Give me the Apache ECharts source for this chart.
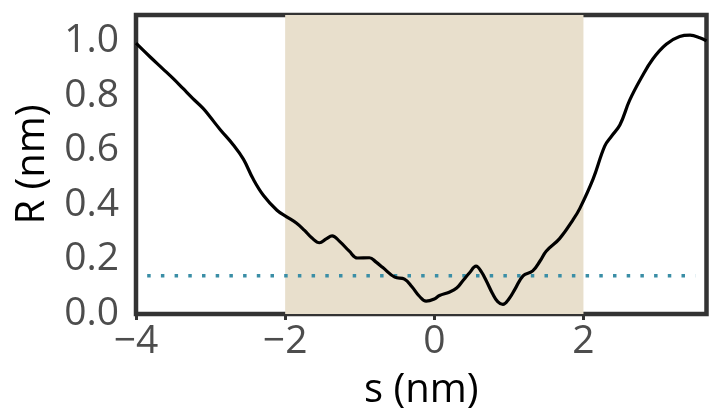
<!DOCTYPE html>
<html>
<head>
<meta charset="utf-8">
<script src="https://cdn.jsdelivr.net/npm/echarts@6/dist/echarts.min.js"></script>
<style>
html,body{margin:0;padding:0;background:#fff;}
#chart{width:709px;height:416px;}
</style>
</head>
<body>
<div id="chart"></div>
<script>
var sValues = [-4.0,-3.82,-3.64,-3.5,-3.37,-3.24,-3.1,-3.01,-2.87,-2.7,-2.56,-2.43,-2.29,-2.11,-1.98,-1.85,-1.74,-1.64,-1.54,-1.45,-1.37,-1.27,-1.14,-1.03,-0.87,-0.78,-0.69,-0.53,-0.40,-0.30,-0.20,-0.11,0.0,0.07,0.20,0.30,0.38,0.47,0.56,0.63,0.70,0.78,0.85,0.92,1.0,1.08,1.19,1.32,1.42,1.50,1.68,1.86,1.95,2.13,2.285,2.376,2.49,2.62,2.78,2.93,3.11,3.29,3.43,3.56,3.65];
var rValues = [0.992,0.944,0.898,0.862,0.826,0.790,0.753,0.723,0.675,0.621,0.567,0.495,0.434,0.380,0.356,0.333,0.306,0.278,0.261,0.275,0.286,0.266,0.230,0.205,0.206,0.190,0.170,0.135,0.128,0.100,0.065,0.047,0.055,0.068,0.080,0.095,0.121,0.150,0.175,0.155,0.120,0.075,0.045,0.035,0.055,0.090,0.140,0.158,0.195,0.230,0.276,0.345,0.386,0.495,0.615,0.651,0.693,0.783,0.867,0.934,0.988,1.016,1.021,1.012,1.000];
var xTicks = [-4,-2,0,2];
var yTicks = [0,0.2,0.4,0.6,0.8,1.0];
var shadeRange = [-2, 2];
var thresholdR = 0.14;
var thresholdS = [-3.85, 3.5];
var xRange = [-4, 3.65];
var yRange = [0, 1.095];

var curve = sValues.map(function(s,i){return [s, rValues[i]];});
var thresh = thresholdS.map(function(s){return [s, thresholdR];});

var chart = echarts.init(document.getElementById('chart'), null, {renderer:'canvas'});
var fontFam = '"Open Sans", "Noto Sans", sans-serif';
chart.setOption({
  animation:false,
  backgroundColor:'#ffffff',
  grid:{left:136, right:2.5, top:15, bottom:99, show:true, borderColor:'#333333', borderWidth:4.5, backgroundColor:'transparent'},
  xAxis:{
    type:'value', min:xRange[0], max:xRange[1], interval:2,
    name:'s (nm)', nameLocation:'middle', nameGap:57,
    nameTextStyle:{color:'#000', fontSize:40, fontFamily:fontFam},
    axisLine:{show:false},
    axisTick:{show:true, length:6, customValues:xTicks, lineStyle:{color:'#333333', width:3}},
    axisLabel:{customValues:xTicks, color:'#4d4d4d', fontSize:39, fontFamily:fontFam, margin:8,
      formatter:function(v){return String(v).replace('-', '\u2212');}},
    splitLine:{show:false}
  },
  yAxis:{
    type:'value', min:yRange[0], max:yRange[1], interval:0.2,
    name:'R (nm)', nameLocation:'middle', nameGap:83, nameRotate:90,
    nameTextStyle:{color:'#000', fontSize:40, fontFamily:fontFam},
    axisLine:{show:false},
    axisTick:{show:true, length:6, customValues:yTicks, lineStyle:{color:'#333333', width:3}},
    axisLabel:{customValues:yTicks, color:'#4d4d4d', fontSize:39, fontFamily:fontFam, margin:17,
      formatter:function(v){return v.toFixed(1);}},
    splitLine:{show:false}
  },
  series:[
    {
      type:'line', data:[], silent:true, z:1,
      markArea:{silent:true, itemStyle:{color:'#e8dfcc', opacity:1},
        data:[[{xAxis:shadeRange[0]},{xAxis:shadeRange[1]}]]}
    },
    {
      type:'line', data:thresh, showSymbol:false, silent:true, z:2,
      lineStyle:{color:'#3a8ea6', width:3.5, type:[3.5,10.2], cap:'butt'}
    },
    {
      type:'line', data:curve, showSymbol:false, smooth:0.4, silent:true, z:3,
      lineStyle:{color:'#000000', width:3.2}
    }
  ]
});
</script>
</body>
</html>
